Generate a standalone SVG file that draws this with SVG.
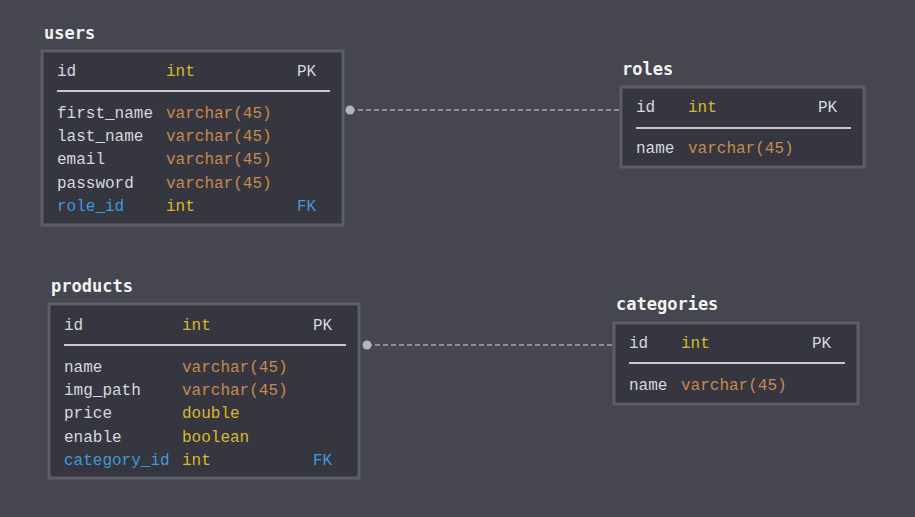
<svg xmlns="http://www.w3.org/2000/svg" width="915" height="517" viewBox="0 0 915 517">
<style>
.bg{fill:#45464f}
.box{fill:#35363f;stroke:#5d5e69;stroke-width:3}
.title{font-family:"DejaVu Sans Mono","Liberation Mono",monospace;font-size:17px;font-weight:600;fill:#f2f2f2}
.t{font-family:"Liberation Mono","DejaVu Sans Mono",monospace;font-size:16px}
.n{fill:#d8d8dc}
.i{fill:#d9b92c}
.v{fill:#c98a4d}
.k{fill:#d8d8dc}
.f{fill:#3d9ad6}
.sep{stroke:#c8c8cc;stroke-width:2}
.conn{stroke:#a6a6ae;stroke-width:1.5;stroke-dasharray:5 3;fill:none}
.dot{fill:#b4b4bc}
</style>
<rect class="bg" x="0" y="0" width="915" height="517"/>
<g id="connectors">
<line class="conn" x1="350" y1="110" x2="620" y2="110"/>
<circle class="dot" cx="350" cy="110" r="4.5"/>
<line class="conn" x1="367" y1="345" x2="613" y2="345"/>
<circle class="dot" cx="367" cy="345" r="4.5"/>
</g>
<g id="users">
<text class="title" x="44" y="39">users</text>
<rect class="box" x="42" y="51" width="301" height="174"/>
<text class="t n" x="57" y="76">id</text><text class="t i" x="166" y="76">int</text><text class="t k" x="297" y="76">PK</text>
<line class="sep" x1="57" y1="91" x2="330" y2="91"/>
<text class="t n" x="57" y="118">first_name</text><text class="t v" x="166" y="118">varchar(45)</text>
<text class="t n" x="57" y="141">last_name</text><text class="t v" x="166" y="141">varchar(45)</text>
<text class="t n" x="57" y="164">email</text><text class="t v" x="166" y="164">varchar(45)</text>
<text class="t n" x="57" y="188">password</text><text class="t v" x="166" y="188">varchar(45)</text>
<text class="t f" x="57" y="211">role_id</text><text class="t i" x="166" y="211">int</text><text class="t f" x="297" y="211">FK</text>
</g>
<g id="roles">
<text class="title" x="622" y="75">roles</text>
<rect class="box" x="621" y="87" width="243" height="80"/>
<text class="t n" x="636" y="112">id</text><text class="t i" x="688" y="112">int</text><text class="t k" x="818" y="112">PK</text>
<line class="sep" x1="636" y1="128" x2="851" y2="128"/>
<text class="t n" x="636" y="153">name</text><text class="t v" x="688" y="153">varchar(45)</text>
</g>
<g id="products">
<text class="title" x="51" y="292">products</text>
<rect class="box" x="49" y="304" width="310" height="174"/>
<text class="t n" x="64" y="330">id</text><text class="t i" x="182" y="330">int</text><text class="t k" x="313" y="330">PK</text>
<line class="sep" x1="64" y1="345" x2="346" y2="345"/>
<text class="t n" x="64" y="372">name</text><text class="t v" x="182" y="372">varchar(45)</text>
<text class="t n" x="64" y="395">img_path</text><text class="t v" x="182" y="395">varchar(45)</text>
<text class="t n" x="64" y="418">price</text><text class="t i" x="182" y="418">double</text>
<text class="t n" x="64" y="442">enable</text><text class="t i" x="182" y="442">boolean</text>
<text class="t f" x="64" y="465">category_id</text><text class="t i" x="182" y="465">int</text><text class="t f" x="313" y="465">FK</text>
</g>
<g id="categories">
<text class="title" x="616" y="310">categories</text>
<rect class="box" x="614" y="323" width="244" height="81"/>
<text class="t n" x="629" y="348">id</text><text class="t i" x="681" y="348">int</text><text class="t k" x="812" y="348">PK</text>
<line class="sep" x1="629" y1="363" x2="845" y2="363"/>
<text class="t n" x="629" y="390">name</text><text class="t v" x="681" y="390">varchar(45)</text>
</g>
</svg>
